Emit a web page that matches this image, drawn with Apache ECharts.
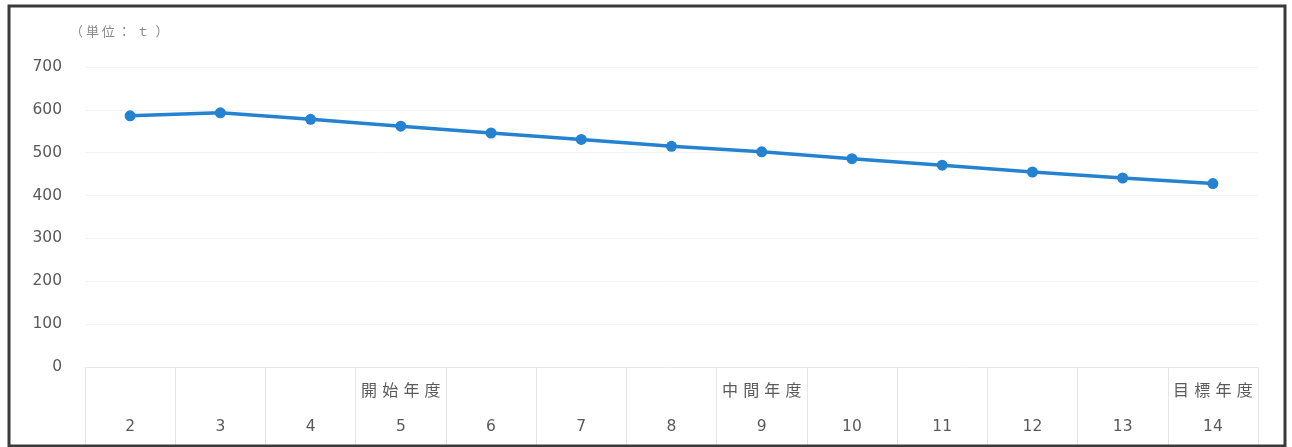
<!DOCTYPE html>
<html>
<head>
<meta charset="utf-8">
<script src="https://cdn.jsdelivr.net/npm/echarts@6/dist/echarts.min.js"></script>
<style>
  html, body { margin: 0; padding: 0; background: #fff; }
  #chart { width: 1292px; height: 447px; }
</style>
</head>
<body>
<div id="chart"></div>
<script>
// 年度 (x-axis categories)
const years = ['2', '3', '4', '5', '6', '7', '8', '9', '10', '11', '12', '13', '14'];
// milestone captions shown above the year numbers
const milestones = ['', '', '', '開始年度', '', '', '', '中間年度', '', '', '', '', '目標年度'];
// 排出量 (t)
const amounts = [586, 593, 578, 562, 546, 531, 515, 502, 486, 471, 455, 441, 428];
// y-axis range
const yMin = 0, yMax = 700, yStep = 100;

const FONT = '"Noto Sans CJK JP", "Noto Sans", sans-serif';
const NUM_FONT = '"DejaVu Sans", "Noto Sans", sans-serif';
const TEXT_GRAY = '#5a5a5a';

// spread a caption out one glyph at a time so it reads with wide tracking
function spaced(str) {
  if (!str) return '{m| }';
  return str.split('').map(function (ch) { return '{c|' + ch + '}'; }).join('');
}

const chart = echarts.init(document.getElementById('chart'), null, { renderer: 'canvas' });

chart.setOption({
  backgroundColor: '#ffffff',
  animation: false,
  textStyle: { fontFamily: FONT },
  grid: { left: 85, right: 34, top: 67, bottom: 80, containLabel: false },
  graphic: [
    {
      type: 'rect',
      shape: { x: 9, y: 6, width: 1276, height: 440 },
      style: { fill: 'none', stroke: '#3a3a3a', lineWidth: 3 },
      z: 100
    },
    {
      type: 'text',
      left: 70,
      top: 25,
      style: {
        text: '（ 単 位 ：  ｔ  ）',
        fontFamily: FONT,
        fontSize: 13,
        fill: '#8a8a8a'
      }
    }
  ],
  xAxis: {
    type: 'category',
    data: years,
    boundaryGap: true,
    axisLine: { show: true, lineStyle: { color: '#e8e8e8', width: 1 } },
    axisTick: {
      show: true,
      alignWithLabel: false,
      length: 78,
      lineStyle: { color: '#e6e6e6', width: 1 }
    },
    splitLine: { show: false },
    axisLabel: {
      margin: 4,
      interval: 0,
      formatter: function (value, idx) {
        return spaced(milestones[idx]) + '\n{y|' + value + '}';
      },
      rich: {
        m: { fontFamily: FONT, fontSize: 16, color: TEXT_GRAY, lineHeight: 37, height: 37 },
        c: { fontFamily: FONT, fontSize: 16, color: TEXT_GRAY, lineHeight: 37, height: 37, padding: [0, 2.6] },
        y: { fontFamily: NUM_FONT, fontSize: 15.5, color: TEXT_GRAY, lineHeight: 37, height: 37 }
      }
    }
  },
  yAxis: {
    type: 'value',
    min: yMin,
    max: yMax,
    interval: yStep,
    axisLine: { show: false },
    axisTick: { show: false },
    splitLine: { show: true, lineStyle: { color: '#f3f3f3', width: 1 } },
    axisLabel: {
      margin: 23,
      fontFamily: NUM_FONT,
      fontSize: 15.5,
      color: TEXT_GRAY
    }
  },
  series: [
    {
      type: 'line',
      data: amounts,
      symbol: 'circle',
      symbolSize: 11,
      lineStyle: { color: '#2582d0', width: 3.5 },
      itemStyle: { color: '#2582d0' },
      label: { show: false }
    }
  ]
});
</script>
</body>
</html>
